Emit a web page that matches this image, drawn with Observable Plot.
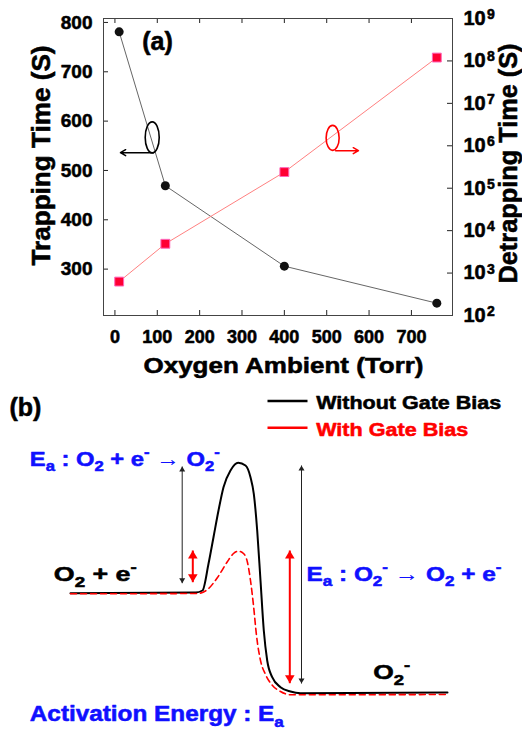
<!DOCTYPE html>
<html><head><meta charset="utf-8">
<script src="https://cdn.jsdelivr.net/npm/d3@7"></script>
<script src="https://cdn.jsdelivr.net/npm/@observablehq/plot@0.6"></script>
<style>
body{margin:0;background:#fff;}
#fig{width:522px;height:730px;position:relative;overflow:hidden;background:#fff;}
#fig svg{display:block;}
</style></head><body><div id="fig"></div>
<script>
// ---------- Panel (a) data ----------
const pressure = [10, 119, 400, 760];              // Oxygen Ambient (Torr)
const trappingTime = [781, 469, 306, 231];         // Trapping Time (S), left axis
const detrappingTime = [630, 4900, 2.4e5, 1.2e8];  // Detrapping Time (S), right log axis
const xTicks = [0, 100, 200, 300, 400, 500, 600, 700];
const leftTicks = [300, 400, 500, 600, 700, 800];
const rightExponents = [2, 3, 4, 5, 6, 7, 8, 9];
const xDomain = [-27, 797];
const leftDomain = [206, 808];
const logDomain = [2, 9];

// annotation ellipses + arrows of panel (a) (data coordinates of the left axis)
const ellipseA = [{x: 88, y: 567, color: "black"}, {x: 514, y: 566, color: "red"}];
const arrowsA = [{x1: 91, x2: 13, y: 536, color: "black"}, {x1: 521, x2: 575, y: 540, color: "red"}];

// ---------- Panel (b) data (reaction coordinate, energy in arbitrary units) ----------
const rcBlack = [70, 195, 202, 208, 213, 218, 223, 230, 237.7, 245, 250, 253.3, 256.7, 260, 263.3, 266.7, 271.7, 280, 290, 300, 447];
const enBlack = [137.3, 138, 140, 166.7, 193.3, 220, 243.3, 260, 267.7, 265, 253.3, 236.7, 200, 150, 100, 70, 53.3, 43.3, 39, 37.3, 38];
const rcRed = [70, 197, 207, 217, 227, 233, 238, 243, 247, 250, 253, 256, 260, 265, 272, 280, 290, 447];
const enRed = [136.7, 137, 141, 153, 169, 177, 179.3, 177, 168, 150, 125, 95, 70, 56, 45, 39, 35.7, 36];
const barriers = [
  {x: 181.7, e1: 264, e2: 147.3, color: "#222", w: 1, head: 5},
  {x: 192.3, e1: 180, e2: 148.3, color: "red", w: 2, head: 8},
  {x: 289.3, e1: 180, e2: 47.3, color: "red", w: 2, head: 8},
  {x: 301, e1: 265, e2: 47, color: "#222", w: 1, head: 5}
];
const legendB = [
  {label: "Without Gate Bias", color: "black", dash: null, e: 329.5, te: 321.7},
  {label: "With Gate Bias", color: "red", dash: "6,4", e: 302.7, te: 295}
];
const labelsB = [
  {text: "(b)", x: 9, e: 315, color: "black", size: 25},
  {text: "E_{a} : O_{2} + e^{-}~{ →} O_{2}^{-}", x: 29.3, e: 265, color: "#1010ff", size: 21},
  {text: "O_{2} + e^{-}", x: 53.3, e: 149.3, color: "black", size: 21},
  {text: "E_{a} : O_{2}^{-}~{ →} O_{2} + e^{-}", x: 306, e: 150, color: "#1010ff", size: 21},
  {text: "O_{2}^{-}", x: 372.7, e: 51.7, color: "black", size: 21},
  {text: "Activation Energy : E_{a}", x: 29.3, e: 10, color: "#1010ff", size: 22}
];
// measured widths of the (horizontally stretched) texts in the reference
const textWidths = new Map([
  ["Oxygen Ambient (Torr)", 280],
  ["Trapping Time (S)", 220],
  ["Detrapping Time (S)", 240],
  ["Without Gate Bias", 185],
  ["With Gate Bias", 152],
  ["E_{a} : O_{2} + e^{-}~{ →} O_{2}^{-}", 190],
  ["O_{2} + e^{-}", 83],
  ["E_{a} : O_{2}^{-}~{ →} O_{2} + e^{-}", 195],
  ["O_{2}^{-}", 37],
  ["Activation Energy : E_{a}", 254]
]);

const FONT = "'Liberation Sans', Arial, Helvetica, sans-serif";
const toLeft = v => leftDomain[0] + (Math.log10(v) - logDomain[0]) / (logDomain[1] - logDomain[0]) * (leftDomain[1] - leftDomain[0]);

const rowsA = pressure.map((p, i) => ({p, trap: trappingTime[i], detrap: toLeft(detrappingTime[i])}));
const rightTickVals = rightExponents.map(e => toLeft(10 ** e));

function ellipseSymbol(rx, ry) {
  const k = 0.5523;
  return {draw(ctx) {
    ctx.moveTo(rx, 0);
    ctx.bezierCurveTo(rx, ry * k, rx * k, ry, 0, ry);
    ctx.bezierCurveTo(-rx * k, ry, -rx, ry * k, -rx, 0);
    ctx.bezierCurveTo(-rx, -ry * k, -rx * k, -ry, 0, -ry);
    ctx.bezierCurveTo(rx * k, -ry, rx, -ry * k, rx, 0);
    ctx.closePath();
  }};
}
// filled arrow head with its tip at the origin, pointing up
function headSymbol(h) {
  const w = h * 0.6;
  return {draw(ctx) { ctx.moveTo(0, 0); ctx.lineTo(w, h); ctx.lineTo(-w, h); ctx.closePath(); }};
}

const H = 380, mT = 18, mB = 65, mL = 103, mR = 70;
const fh = H - mT - mB, fw = 522 - mL - mR;

const plotA = Plot.plot({
  width: 522, height: H,
  marginLeft: mL, marginRight: mR, marginTop: mT, marginBottom: mB,
  x: {domain: xDomain, axis: null},
  y: {domain: leftDomain, axis: null},
  style: {fontFamily: FONT, fontWeight: "bold", color: "black", background: "white", overflow: "visible"},
  marks: [
    Plot.ruleX(xTicks, {x: d => d, insetBottom: fh - 5, stroke: "#222"}),
    Plot.ruleX(xTicks, {x: d => d, insetTop: fh - 5, stroke: "#222"}),
    Plot.ruleY(leftTicks, {y: d => d, insetRight: fw - 5, stroke: "#222"}),
    Plot.ruleY(rightTickVals, {y: d => d, insetLeft: fw - 5, stroke: "#222"}),
    Plot.frame({stroke: "#444"}),
    Plot.line(rowsA, {x: "p", y: "trap", stroke: "#666", strokeWidth: 1}),
    Plot.line(rowsA, {x: "p", y: "detrap", stroke: "#ff8080", strokeWidth: 1}),
    Plot.dot(rowsA, {x: "p", y: "trap", r: 4.5, fill: "#111", stroke: "none"}),
    Plot.dot(rowsA, {x: "p", y: "detrap", r: 5, symbol: "square", fill: "#ff0033", stroke: "#ff66bb", strokeWidth: 1}),
    // tick labels
    Plot.text(xTicks, {x: d => d, text: d => String(d), frameAnchor: "bottom", dy: 15, lineAnchor: "top", textAnchor: "middle", fontSize: 18, fontWeight: "bold", ariaLabel: "ticklabel"}),
    Plot.text(leftTicks, {y: d => d, text: d => String(d), frameAnchor: "left", dx: -11, textAnchor: "end", lineAnchor: "middle", fontSize: 19, fontWeight: "bold", ariaLabel: "ticklabel"}),
    Plot.text(rightExponents, {y: e => toLeft(10 ** e), text: () => "10", frameAnchor: "right", dx: 11, textAnchor: "start", lineAnchor: "middle", fontSize: 20, fontWeight: "bold"}),
    Plot.text(rightExponents, {y: e => toLeft(10 ** e), text: e => String(e), frameAnchor: "right", dx: 34.5, dy: -4, textAnchor: "start", lineAnchor: "middle", fontSize: 14, fontWeight: "bold"}),
    // axis labels
    Plot.text(["Trapping Time (S)"], {frameAnchor: "left", rotate: -90, dx: -62, dy: -11.5, textAnchor: "middle", lineAnchor: "middle", fontSize: 26, fontWeight: "bold"}),
    Plot.text(["Detrapping Time (S)"], {frameAnchor: "right", rotate: -90, dx: 56, dy: -3.5, textAnchor: "middle", lineAnchor: "middle", fontSize: 25, fontWeight: "bold"}),
    Plot.text(["Oxygen Ambient (Torr)"], {frameAnchor: "bottom", dx: 5.5, dy: 50, textAnchor: "middle", lineAnchor: "middle", fontSize: 22, fontWeight: "bold"}),
    Plot.text(["(a)"], {x: 64.4, y: 743.5, textAnchor: "start", lineAnchor: "bottom", fontSize: 25, fontWeight: "bold"}),
    // annotations
    Plot.dot(ellipseA.slice(0, 1), {x: "x", y: "y", symbol: ellipseSymbol(7, 15.5), stroke: "color", fill: "none", strokeWidth: 1.6}),
    Plot.dot(ellipseA.slice(1), {x: "x", y: "y", symbol: ellipseSymbol(6.5, 12.5), stroke: "color", fill: "none", strokeWidth: 1.6}),
    Plot.arrow(arrowsA, {x1: "x1", x2: "x2", y1: "y", y2: "y", stroke: "color", strokeWidth: 1.5, headLength: 6})
  ]
});

const headsB = barriers.flatMap(b => [
  {x: b.x, e: b.e1, rot: 0, color: b.color, head: b.head},
  {x: b.x, e: b.e2, rot: 180, color: b.color, head: b.head}
]);

const plotB = Plot.plot({
  width: 522, height: 350, margin: 0,
  x: {domain: [0, 522], axis: null},
  y: {domain: [0, 350], axis: null},
  style: {fontFamily: FONT, fontWeight: "bold", color: "black", background: "white", overflow: "visible"},
  marks: [
    Plot.line(rcBlack.map((x, i) => ({x, e: enBlack[i]})), {x: "x", y: "e", stroke: "black", strokeWidth: 2, curve: "monotone-x"}),
    Plot.line(rcRed.map((x, i) => ({x, e: enRed[i]})), {x: "x", y: "e", stroke: "red", strokeWidth: 1.6, strokeDasharray: "6,4", curve: "monotone-x"}),
    Plot.link(barriers, {x1: "x", x2: "x", y1: "e1", y2: "e2", stroke: "color", strokeWidth: "w"}),
    Plot.dot(headsB.filter(d => d.head === 5), {x: "x", y: "e", rotate: "rot", symbol: headSymbol(5), fill: "color", stroke: "none"}),
    Plot.dot(headsB.filter(d => d.head === 8), {x: "x", y: "e", rotate: "rot", symbol: headSymbol(8), fill: "color", stroke: "none"}),
    Plot.link(legendB, {x1: () => 267, x2: () => 307, y1: "e", y2: "e", stroke: "color", strokeWidth: 2.4, strokeDasharray: d => d.dash}),
    Plot.text(legendB, {x: () => 315.7, y: "te", text: "label", fill: "color", textAnchor: "start", lineAnchor: "bottom", fontSize: 19, fontWeight: "bold"}),
    Plot.text(labelsB, {x: "x", y: "e", text: "text", fill: "color", fontSize: "size", textAnchor: "start", lineAnchor: "bottom", fontWeight: "bold"})
  ]
});

const fig = document.getElementById("fig");
fig.appendChild(plotA);
fig.appendChild(plotB);

function richify(root) {
  root.querySelectorAll("text").forEach(t => {
    const s = t.textContent;
    const target = textWidths.get(s);
    if (/[_^~]\{/.test(s)) {
      const fs = parseFloat(getComputedStyle(t).fontSize) || 20;
      t.textContent = "";
      const re = /([_^~])\{([^}]*)\}|([^_^~]+)/g;
      let m, shift = 0;
      while ((m = re.exec(s))) {
        const ts = document.createElementNS("http://www.w3.org/2000/svg", "tspan");
        let off = 0, text;
        if (m[1] === "_") { off = 0.28 * fs; ts.setAttribute("font-size", (0.7 * fs).toFixed(1)); text = m[2]; }
        else if (m[1] === "^") { off = -0.42 * fs; ts.setAttribute("font-size", (0.7 * fs).toFixed(1)); text = m[2]; }
        else if (m[1] === "~") { ts.setAttribute("font-weight", "normal"); ts.setAttribute("stroke-width", "0"); text = m[2]; }
        else text = m[3];
        if (off - shift !== 0) ts.setAttribute("dy", (off - shift).toFixed(2));
        shift = off;
        ts.textContent = text;
        t.appendChild(ts);
      }
    }
    if (target) {
      t.setAttribute("textLength", target);
      t.setAttribute("lengthAdjust", "spacingAndGlyphs");
    }
    // heavier strokes, like the reference's very bold face
    const fill = getComputedStyle(t).fill;
    t.setAttribute("stroke", fill);
    t.setAttribute("stroke-width", "0.55");
    t.setAttribute("stroke-linejoin", "round");
  });
  // tick labels are drawn slightly wider in the reference
  root.querySelectorAll('g[aria-label="ticklabel"] text').forEach(t => {
    t.setAttribute("textLength", (t.getComputedTextLength() * 1.13).toFixed(1));
    t.setAttribute("lengthAdjust", "spacingAndGlyphs");
  });
}
richify(plotA);
richify(plotB);
</script></body></html>
